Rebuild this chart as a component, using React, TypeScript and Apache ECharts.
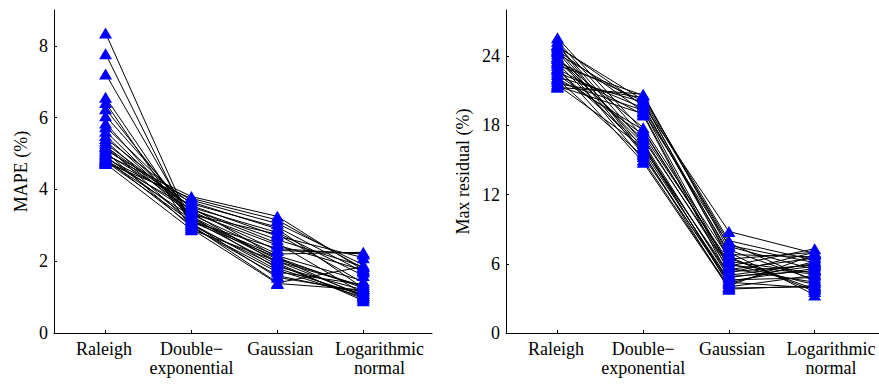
import React, { useEffect, useRef } from "react";
import * as echarts from "echarts";

// Category labels and their x positions
const categories = ["Raleigh", "Double−\nexponential", "Gaussian", "Logarithmic\nnormal"];
const catPositions = [1, 2, 3, 4];

// Left panel: MAPE (%)
const mapeTicks = [0, 2, 4, 6, 8];
const mapeRaleigh = [8.36, 7.78, 7.22, 6.57, 6.42, 6.25, 6.05, 5.85, 5.75, 5.5, 5.42, 5.35, 5.28, 5.22, 5.15, 5.1, 5.05, 5.0, 4.97, 4.93, 4.9, 4.87, 4.85, 4.82, 4.8, 4.78, 4.75, 4.72, 5.2, 5.62];
const mapeDouble = [3.0, 2.95, 3.1, 3.05, 2.9, 3.2, 3.35, 3.15, 3.45, 3.3, 3.6, 3.25, 3.5, 3.05, 3.4, 3.7, 2.95, 3.55, 3.8, 3.15, 3.35, 3.65, 3.0, 3.45, 3.25, 3.1, 3.75, 2.88, 3.5, 3.3];
const mapeGaussian = [1.85, 1.6, 2.1, 1.75, 1.38, 2.0, 2.45, 1.9, 2.6, 2.2, 2.95, 2.05, 2.8, 1.55, 2.3, 3.05, 1.7, 2.7, 3.25, 2.15, 1.95, 2.9, 1.4, 2.5, 1.8, 2.35, 3.15, 2.0, 2.1, 2.75];
const mapeLognormal = [1.2, 1.1, 1.25, 1.0, 1.2, 1.05, 1.75, 0.95, 1.85, 2.25, 1.7, 1.3, 1.6, 1.15, 2.22, 1.9, 1.35, 2.1, 1.75, 1.45, 0.9, 1.25, 1.85, 1.1, 1.05, 2.2, 1.8, 1.3, 1.0, 1.4];

// Right panel: Max residual (%)
const resTicks = [0, 6, 12, 18, 24];
const resRaleigh = [25.6, 25.3, 25.0, 24.8, 24.6, 24.4, 24.2, 24.0, 23.8, 23.6, 23.4, 23.2, 23.0, 22.8, 22.6, 22.4, 22.2, 22.0, 21.8, 21.6, 21.4, 21.3, 23.9, 24.9, 22.9, 25.0, 23.5, 22.1, 24.5, 21.5];
const resDouble = [17.5, 17.0, 16.5, 20.2, 16.0, 15.5, 19.8, 15.0, 17.8, 16.8, 15.8, 20.6, 14.8, 16.2, 19.5, 17.2, 20.0, 15.3, 19.3, 20.4, 19.0, 20.7, 16.4, 19.7, 18.9, 15.6, 20.1, 17.6, 19.2, 16.1];
const resGaussian = [6.0, 5.5, 4.8, 7.8, 5.2, 4.3, 8.8, 4.0, 6.5, 5.8, 4.6, 7.5, 3.9, 5.0, 7.0, 6.2, 6.8, 4.5, 5.6, 8.0, 5.3, 7.2, 4.1, 6.6, 4.9, 3.8, 6.4, 5.9, 7.6, 4.4];
const resLognormal = [4.2, 6.5, 5.8, 4.5, 7.0, 6.2, 6.9, 5.0, 3.8, 7.3, 4.8, 5.5, 4.0, 6.0, 3.3, 5.2, 6.6, 5.6, 4.4, 6.3, 5.9, 4.6, 6.8, 3.6, 5.4, 4.1, 7.0, 5.1, 6.1, 3.9];

const FONT = "Liberation Serif";
const FS = 18;
const LH = 19;
// The last category label sits a little right of its tick in the reference
const LAST_LABEL_SHIFT = 0.19;

const labelStyleKeys = ["r", "d", "g", "l"];

function buildSeries(cols: number[][], axisIndex: number) {
  const n = cols[0].length;
  const out: any[] = [];
  for (let i = 0; i < n; i++) {
    out.push({
      type: "line",
      xAxisIndex: axisIndex,
      yAxisIndex: axisIndex,
      data: cols.map((c, k) => [catPositions[k], c[i]]),
      symbol: "triangle",
      symbolSize: [13, 11],
      showSymbol: true,
      itemStyle: { color: "#0000ff" },
      lineStyle: { color: "#000000", width: 1 },
      silent: true,
    });
  }
  return out;
}

const baseRich = { fontFamily: FONT, fontSize: FS, lineHeight: LH, color: "#000" };

function labelFormatter(v: number) {
  const idx = Math.round(v) - 1;
  const txt = categories[idx];
  if (!txt) return "";
  const key = labelStyleKeys[idx];
  return txt
    .split("\n")
    .map((line) => `{${key}|${line}}`)
    .join("\n");
}

function commonLabel(values: number[]) {
  return {
    show: true,
    customValues: values,
    formatter: labelFormatter,
    fontFamily: FONT,
    fontSize: FS,
    color: "#000",
    margin: 6,
    lineHeight: LH,
    align: "center",
    rich: {
      r: { ...baseRich, padding: [0, 3, 0, 0] },
      d: { ...baseRich },
      g: { ...baseRich, padding: [0, 0, 0, 6] },
      l: { ...baseRich },
    },
  };
}

function xAxisMain(gridIndex: number, max: number) {
  return {
    type: "value",
    gridIndex,
    min: 0.4,
    max,
    axisLine: { show: true, lineStyle: { color: "#000", width: 1 } },
    axisTick: { show: true, inside: true, length: 3, customValues: catPositions, lineStyle: { color: "#000" } },
    axisLabel: commonLabel(catPositions.slice(0, 3)),
    splitLine: { show: false },
  };
}

function xAxisLast(gridIndex: number, max: number) {
  return {
    type: "value",
    gridIndex,
    min: 0.4,
    max,
    position: "bottom",
    axisLine: { show: false },
    axisTick: { show: false },
    axisLabel: commonLabel([catPositions[3] + LAST_LABEL_SHIFT]),
    splitLine: { show: false },
  };
}

function yAxis(gridIndex: number, max: number, ticks: number[], name: string, nameGap: number) {
  return {
    type: "value",
    gridIndex,
    min: 0,
    max,
    name,
    nameLocation: "middle",
    nameGap,
    nameTextStyle: { fontFamily: FONT, fontSize: FS, color: "#000" },
    axisLine: { show: true, lineStyle: { color: "#000", width: 1 } },
    axisTick: { show: true, inside: true, length: 3, customValues: ticks, lineStyle: { color: "#000" } },
    axisLabel: { show: true, customValues: ticks, fontFamily: FONT, fontSize: FS, color: "#000", margin: 6 },
    splitLine: { show: false },
  };
}

export default function App() {
  const ref = useRef<HTMLDivElement>(null);
  useEffect(() => {
    if (!ref.current) return;
    const chart = echarts.init(ref.current, null, { renderer: "svg" });
    chart.setOption({
      animation: false,
      backgroundColor: "#ffffff",
      grid: [
        { left: 54, top: 10, width: 378, height: 323 },
        { left: 506, top: 10, width: 373, height: 323 },
      ],
      xAxis: [xAxisMain(0, 4.8), xAxisMain(1, 4.75), xAxisLast(0, 4.8), xAxisLast(1, 4.75)],
      yAxis: [
        yAxis(0, 9, mapeTicks, "MAPE (%)", 24),
        yAxis(1, 28, resTicks, "Max residual (%)", 34),
      ],
      series: [
        ...buildSeries([mapeRaleigh, mapeDouble, mapeGaussian, mapeLognormal], 0),
        ...buildSeries([resRaleigh, resDouble, resGaussian, resLognormal], 1),
      ],
    });
    return () => chart.dispose();
  }, []);
  return (
    <div
      ref={ref}
      style={{ position: "absolute", left: 0, top: 0, width: 879, height: 384 }}
    />
  );
}
